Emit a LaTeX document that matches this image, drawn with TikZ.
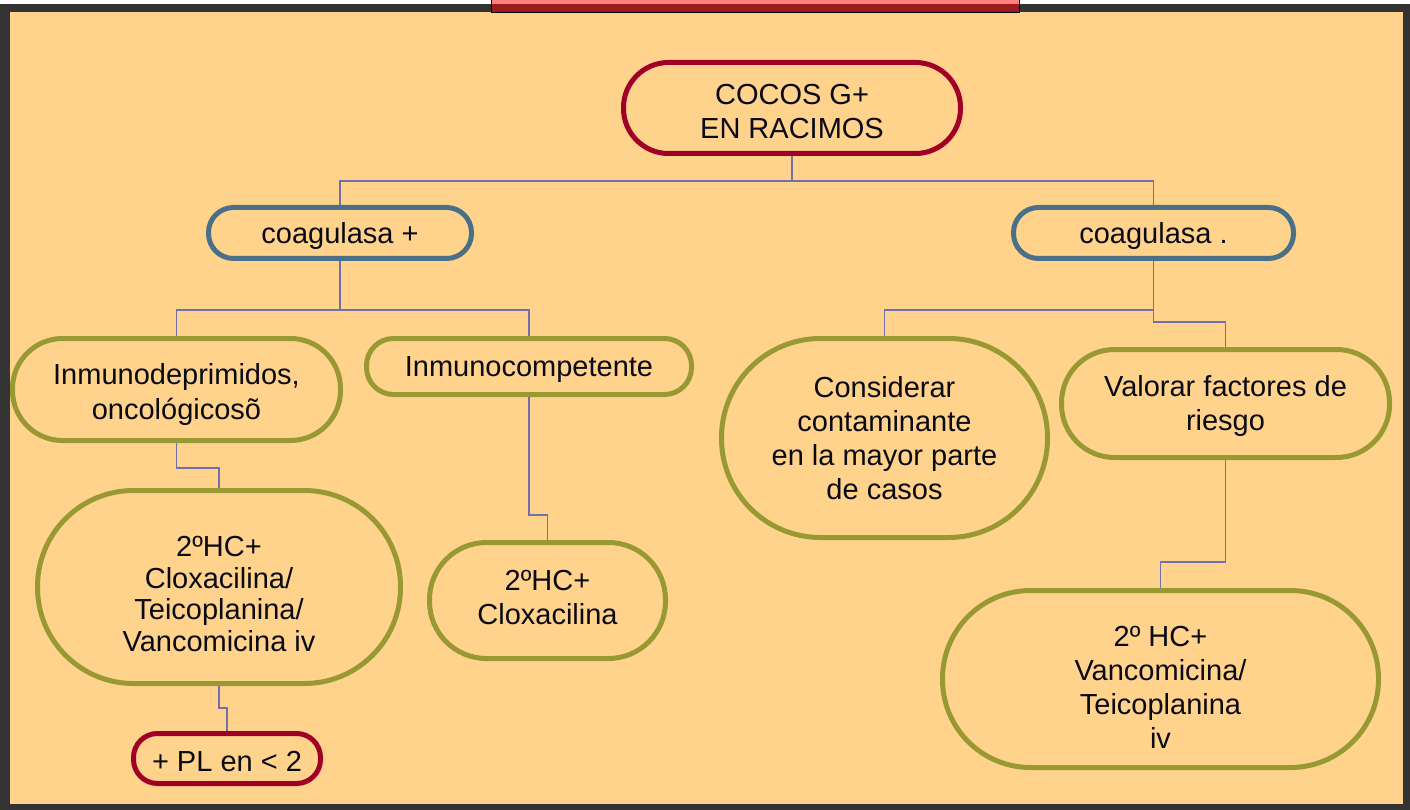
\documentclass[tikz,border=0pt]{standalone}
\usepackage{fontspec}
\setmainfont{Liberation Sans}
\definecolor{bgpeach}{RGB}{255,211,140}
\definecolor{framegray}{RGB}{51,51,51}
\definecolor{redb}{RGB}{160,0,40}
\definecolor{blueb}{RGB}{74,112,135}
\definecolor{oliveb}{RGB}{153,153,51}
\definecolor{linkc}{RGB}{112,112,170}
\definecolor{tabpink}{RGB}{255,128,128}
\definecolor{tabred}{RGB}{155,27,31}
\definecolor{txt}{RGB}{10,10,20}
\begin{document}
\begin{tikzpicture}[x=1pt,y=-1pt,
  box/.style={draw, line width=5pt, fill=none, inner sep=0pt},
  redbox/.style={box, draw=redb},
  bluebox/.style={box, draw=blueb},
  olivebox/.style={box, draw=oliveb},
  lbl/.style={text=txt, align=center, inner sep=0pt, font=\fontsize{29}{34}\selectfont},
  link/.style={draw=linkc, line width=1.5pt}
]
\useasboundingbox (0,0) rectangle (1410,810);
% frame
\fill[framegray] (0,4) rectangle (1410,810);
\fill[bgpeach] (10,12) rectangle (1403,804);
% top tab
\fill[tabred] (491,0) rectangle (1019,13);
\fill[tabpink] (491,0) rectangle (1019,4);
\draw[black, line width=1pt] (491,0) rectangle (1019,13);

% shapes
\node[redbox, minimum width=337pt, minimum height=91pt, rounded corners=45pt] (cocos) at (792,108) {};
\node[bluebox, minimum width=263pt, minimum height=51pt, rounded corners=25pt] (cpos) at (340,233) {};
\node[bluebox, minimum width=280pt, minimum height=51pt, rounded corners=25pt] (cneg) at (1153.5,233) {};
\node[olivebox, minimum width=328pt, minimum height=102pt, rounded corners=50pt] (inmdep) at (176.5,389.5) {};
\node[olivebox, minimum width=325pt, minimum height=56pt, rounded corners=27pt] (inmcomp) at (529,366.5) {};
\node[olivebox, minimum width=326pt, minimum height=199pt, rounded corners=99pt] (consid) at (884.5,438) {};
\node[olivebox, minimum width=328pt, minimum height=108pt, rounded corners=53pt] (valorar) at (1225.5,403.5) {};
\node[olivebox, minimum width=363pt, minimum height=193pt, rounded corners=96pt] (big) at (219,587) {};
\node[olivebox, minimum width=236pt, minimum height=116pt, rounded corners=57pt] (clox) at (547.5,600.5) {};
\node[olivebox, minimum width=436pt, minimum height=177pt, rounded corners=88pt] (vanc) at (1160.5,679) {};
\node[redbox, minimum width=187pt, minimum height=50pt, rounded corners=24pt] (pl) at (227,758.5) {};

% texts
\node[lbl] (cocos-t) at (792,112) {COCOS G+\\EN RACIMOS};
\node[lbl] (cpos-t) at (340,236) {coagulasa +};
\node[lbl] (cneg-t) at (1153.5,236) {coagulasa .};
\node[lbl] (inmdep-t) at (176.5,394.5) {Inmunodeprimidos,\\oncológicosõ};
\node[lbl] (inmcomp-t) at (529,369.5) {Inmunocompetente};
\node[lbl] (consid-t) at (884.5,438) {Considerar\\contaminante\\en la mayor parte\\de casos};
\node[lbl] (valorar-t) at (1225.5,405.5) {Valorar factores de\\riesgo};
\node[lbl, font=\fontsize{29}{31.5}\selectfont] (big-t) at (219,594) {2ºHC+\\Cloxacilina/\\Teicoplanina/\\Vancomicina iv};
\node[lbl] (clox-t) at (547.5,597.5) {2ºHC+\\Cloxacilina};
\node[lbl] (vanc-t) at (1160.5,687) {2º HC+\\Vancomicina/\\Teicoplanina\\iv};
\node[lbl] (pl-t) at (227,761.5) {+ PL en < 2};

% connectors
\draw[link] (cocos.south) -- (cocos.south |- 0,181) -| (cpos.north);
\draw[link] (cocos.south |- 0,181) -| (cneg.north);
\draw[link] (cpos.south) -- (cpos.south |- 0,310) -| (inmdep.north);
\draw[link] (cpos.south |- 0,310) -| (inmcomp.north);
\draw[link] (cneg.south) -- (cneg.south |- 0,310) -| (consid.north);
\draw[link] (cneg.south |- 0,310) -- (cneg.south |- 0,322) -| (valorar.north);
\draw[link] (valorar.south) -- (valorar.south |- 0,562) -| (vanc.north);
\draw[link] (inmdep.south) -- (inmdep.south |- 0,468) -| (big.north);
\draw[link] (inmcomp.south) -- (inmcomp.south |- 0,515) -| (clox.north);
\draw[link] (big.south) -- (big.south |- 0,708) -| (pl.north);
\end{tikzpicture}
\end{document}
